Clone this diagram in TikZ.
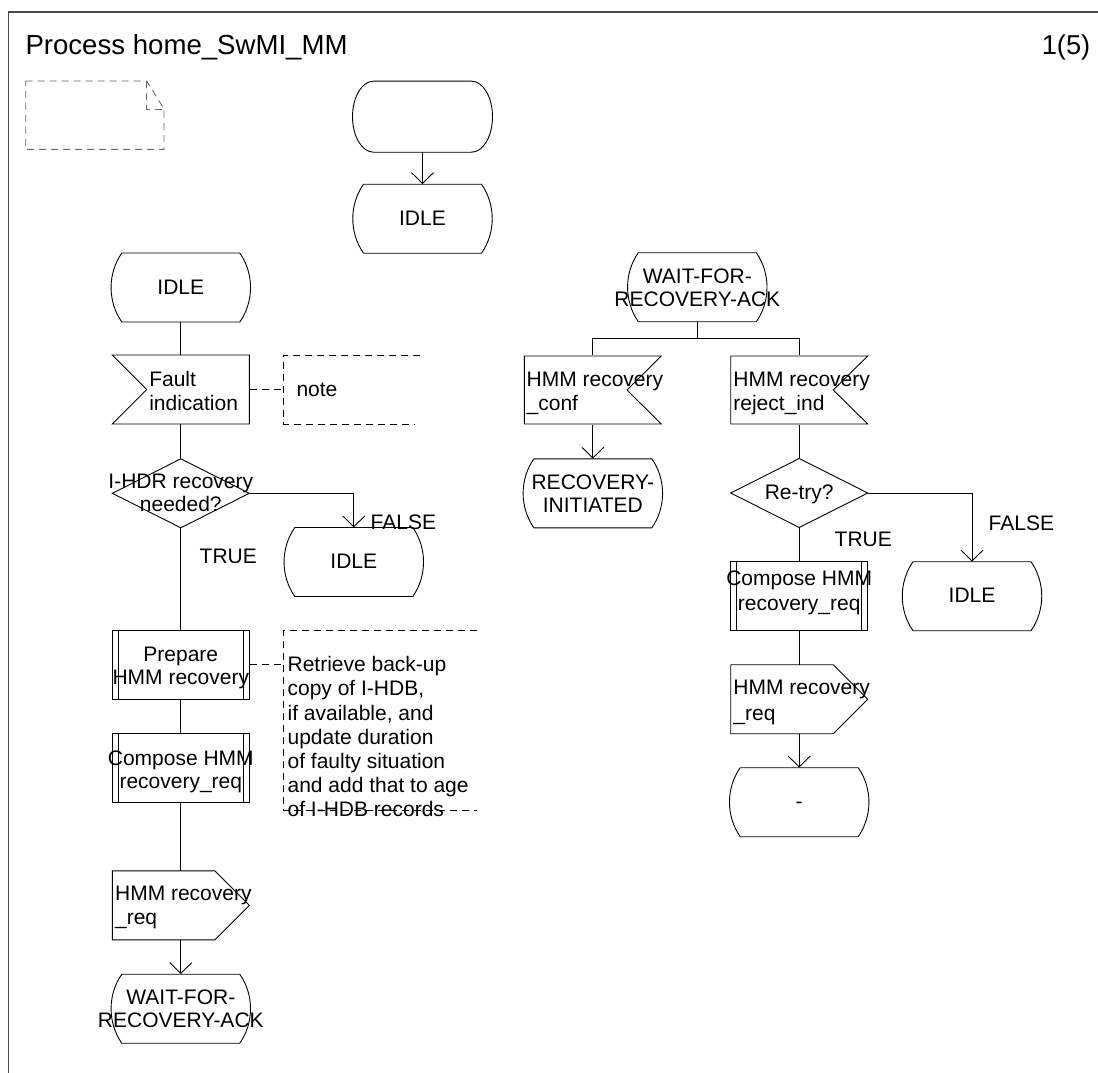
\documentclass[tikz,border=0pt]{standalone}
\usepackage{fontspec}
\setmainfont{Liberation Sans}
\usetikzlibrary{arrows.meta,calc}
\newcommand\fs{\fontsize{21}{24.2}\selectfont}
\newcommand\Cone[1]{\raisebox{-6.5pt}{\makebox[0pt]{#1}}}
\newcommand\Ctwo[4]{\raisebox{#1}{\makebox[0pt]{#3}}\raisebox{#2}{\makebox[0pt]{#4}}}
\newcommand\Ltwo[5]{\makebox[0pt][l]{\kern#1\raisebox{#2}{\makebox[0pt][l]{#4}}\raisebox{#3}{\makebox[0pt][l]{#5}}}}
\newcommand\stateshape[1]{\draw[ln,shift={(#1.center)}] (-59,-34.5) -- (59,-34.5) .. controls (73.3,-14) and (73.3,14) .. (59,34.5) -- (-59,34.5) .. controls (-73.3,14) and (-73.3,-14) .. cycle;}
\newcommand\inL[1]{\draw[ln,shift={(#1.center)}] (-68.5,-34.5) -- (68.5,-34.5) -- (68.5,34.5) -- (-68.5,34.5) -- (-34.1,0) -- cycle;}
\newcommand\inR[1]{\draw[ln,shift={(#1.center)}] (-68.5,-34) -- (68.5,-34) -- (34.1,0) -- (68.5,34) -- (-68.5,34) -- cycle;}
\newcommand\outR[1]{\draw[ln,shift={(#1.center)}] (-68.5,-34.5) -- (34,-34.5) -- (68.5,0) -- (34,34.5) -- (-68.5,34.5) -- cycle;}
\newcommand\decshape[1]{\draw[ln,shift={(#1.center)}] (0,-34.5) -- (68.5,0) -- (0,34.5) -- (-68.5,0) -- cycle;}
\newcommand\procshape[1]{\draw[ln,shift={(#1.center)}] (-68.5,-34.5) rectangle (68.5,34.5) (-62.5,-34.5) -- (-62.5,34.5) (62.5,-34.5) -- (62.5,34.5);}
\tikzset{
  ln/.style={line width=0.9pt},
  sym/.style={inner sep=0pt, text height=0pt, text depth=0pt, font=\fs},
  st/.style={sym, minimum width=140pt, minimum height=69pt},
  bx/.style={sym, minimum width=137pt, minimum height=69pt},
  lab/.style={inner sep=0pt, font=\fs, anchor=base west},
  arr/.style={-{Straight Barb[length=10.7pt,width=22pt]}},
  cmtline/.style={dash pattern=on 7pt off 5pt},
}
\begin{document}
\begin{tikzpicture}[x=1pt,y=-1pt]
\useasboundingbox (0,0) rectangle (1098,1073);
% frame
\draw[line width=1.2pt, black!70] (8.3,1073) -- (8.3,12) -- (1098,12);
\node[inner sep=0pt, anchor=base west, font=\fontsize{27.6}{30}\selectfont] (title) at (25.3,55) {Process home\_SwMI\_MM};
\node[inner sep=0pt, anchor=base east, font=\fontsize{27.3}{30}\selectfont] (page) at (1090.5,55) {1(5)};
% empty text-extension symbol
\draw[ln, black!60, cmtline] (25.7,81) -- (146.7,81) -- (164,109) -- (164,149.3) -- (25.7,149.3) -- cycle;
\draw[ln, black!60, cmtline] (146.7,81) -- (146.7,109) -- (164,109);

% nodes: left part
\node[st, minimum height=71pt] (start) at (422.5,116.7) {};
\node[st] (idleT) at (422.5,218.7) {\Cone{IDLE}};
\node[st] (idleL) at (180.8,287.5) {\Cone{IDLE}};
\node[bx] (fault) at (180.8,389.5) {\Ltwo{-31.5pt}{3.5pt}{-20.5pt}{Fault}{indication}};
\node[sym, minimum width=136.7pt, minimum height=69pt] (note1) at (351.65,389.5) {\makebox[0pt][l]{\kern-55.1pt\raisebox{-6.5pt}{note}}};
\node[bx] (dec1) at (180.8,493.3) {\Ctwo{5.3pt}{-18.4pt}{I-HDR recovery}{needed?}};
\node[st] (idleF) at (353.8,562) {\Cone{IDLE}};
\node[bx] (prep) at (180.8,664.85) {\Ctwo{3.2pt}{-20pt}{Prepare}{HMM recovery}};
\node[sym, minimum width=193.4pt, minimum height=180pt] (cmt2) at (380,720.7) {\makebox[0pt][l]{\kern-92.4pt\raisebox{49pt}{\parbox[t]{200pt}{Retrieve back-up\\copy of I-HDB,\\if available, and\\update duration\\of faulty situation\\and add that to age\\of I-HDB records}}}};
\node[bx] (comp1) at (180.8,767.8) {\Ctwo{2.8pt}{-20.5pt}{Compose HMM}{recovery\_req}};
\node[bx] (out1) at (180.8,905.35) {\Ltwo{-65.7pt}{4.6pt}{-19.6pt}{HMM recovery}{\_req}};
\node[st] (wait1) at (180.8,1008.7) {\Ctwo{4.7pt}{-18.6pt}{WAIT-FOR-}{RECOVERY-ACK}};
\node[lab] (t1) at (199.5,563.3) {TRUE};
\node[lab] (f1) at (370.5,529.3) {FALSE};

% nodes: right part
\node[st] (wait2) at (697.3,287.2) {\Ctwo{3.9pt}{-19.5pt}{WAIT-FOR-}{RECOVERY-ACK}};
\coordinate (br) at (697.3,338.3);
\node[bx] (in1) at (592.85,390) {\Ltwo{-66.2pt}{4pt}{-20pt}{HMM recovery}{\_conf}};
\node[bx] (in2) at (799.2,390) {\Ltwo{-65.8pt}{4pt}{-20pt}{HMM recovery}{reject\_ind}};
\node[st] (rec) at (592.85,493.3) {\Ctwo{4.3pt}{-19.4pt}{RECOVERY-}{INITIATED}};
\node[bx] (dec2) at (799.2,493) {\Cone{Re-try?}};
\node[st] (idleR) at (972,596.2) {\Cone{IDLE}};
\node[bx] (comp2) at (799.2,596.2) {\Ctwo{10.5pt}{-13.8pt}{Compose HMM}{recovery\_req}};
\node[bx] (out2) at (799.2,699.2) {\Ltwo{-65.8pt}{5.2pt}{-20.8pt}{HMM recovery}{\_req}};
\node[st] (dash) at (799.2,802.2) {\Cone{-}};
\node[lab] (t2) at (834.5,546.7) {TRUE};
\node[lab] (f2) at (988.5,530) {FALSE};

% outlines
\draw[ln,shift={(start.center)}] (-49,-35.5) -- (49,-35.5) .. controls (60.6,-35.5) and (70,-19.6) .. (70,0) .. controls (70,19.6) and (60.6,35.5) .. (49,35.5) -- (-49,35.5) .. controls (-60.6,35.5) and (-70,19.6) .. (-70,0) .. controls (-70,-19.6) and (-60.6,-35.5) .. cycle;
\stateshape{idleT}
\stateshape{idleL}
\inL{fault}
\decshape{dec1}
\stateshape{idleF}
\procshape{prep}
\procshape{comp1}
\outR{out1}
\stateshape{wait1}
\stateshape{wait2}
\inR{in1}
\inR{in2}
\stateshape{rec}
\decshape{dec2}
\stateshape{idleR}
\procshape{comp2}
\outR{out2}
\stateshape{dash}
\draw[ln,cmtline,shift={(note1.center)}] (68.35,-34.5) -- (-68.35,-34.5) -- (-68.35,34.5) -- (63.35,34.5);
\draw[ln,cmtline,shift={(cmt2.center)}] (96.7,-90) -- (-96.7,-90) -- (-96.7,90) -- (96.7,90);

% connectors
\draw[ln,arr] (start) -- (idleT);
\draw[ln] (idleL) -- (fault);
\draw[ln] (fault) -- (dec1);
\draw[ln] (dec1) -- (prep);
\draw[ln,arr] (dec1.east) -| (idleF);
\draw[ln] (prep) -- (comp1);
\draw[ln] (comp1) -- (out1);
\draw[ln,arr] (out1) -- (wait1);
\draw[ln,cmtline] (fault) -- (note1);
\draw[ln,cmtline] (prep.east) -- (prep.east -| cmt2.west);
\draw[ln] (wait2) -- (br);
\draw[ln] (br) -| (in1);
\draw[ln] (br) -| (in2);
\draw[ln,arr] (in1) -- (rec);
\draw[ln] (in2) -- (dec2);
\draw[ln] (dec2) -- (comp2);
\draw[ln,arr] (dec2.east) -| (idleR);
\draw[ln] (comp2) -- (out2);
\draw[ln,arr] (out2) -- (dash);
\end{tikzpicture}
\end{document}
